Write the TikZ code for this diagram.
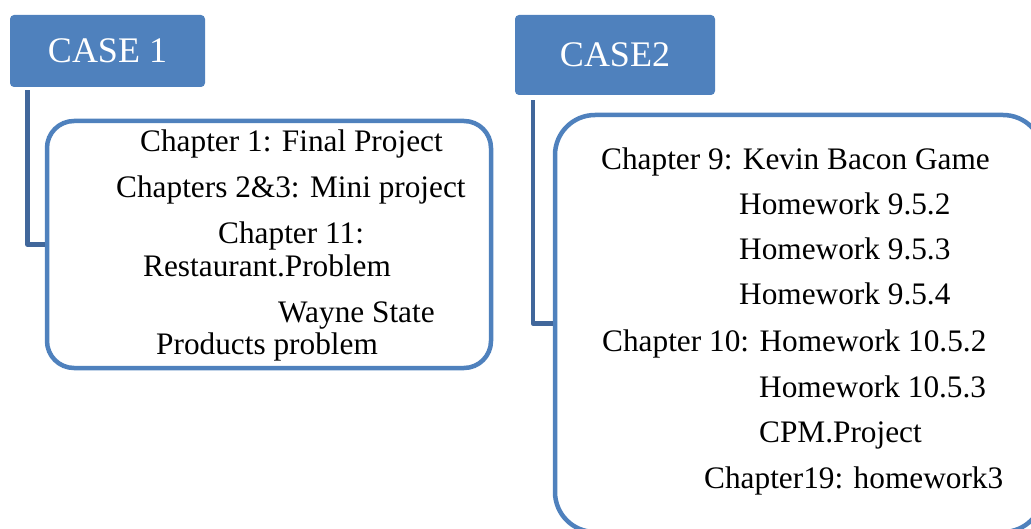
\documentclass[tikz,border=0pt]{standalone}
\usepackage{fontspec}
\setmainfont{Liberation Serif}
\definecolor{caseblue}{HTML}{4F81BD}
\definecolor{linkblue}{HTML}{41679B}
\begin{document}
\begin{tikzpicture}[x=1pt,y=-1pt,
  casebox/.style={fill=caseblue, rounded corners=4pt, text=white, inner sep=0pt,
    font=\fontsize{36}{40}\selectfont},
  listbox/.style={draw=caseblue, line width=4.5pt, fill=white, inner sep=0pt},
  link/.style={draw=linkblue, line width=4.5pt, line join=round},
  item/.style={anchor=base west, inner sep=0pt, font=\fontsize{31.3}{36}\selectfont}]
\useasboundingbox (0,0) rectangle (1031,529);
\clip (0,0) rectangle (1031,529);

% Case headers
\node[casebox, minimum width=195pt, minimum height=72pt] (c1) at (107.5,51) {CASE 1};
\node[casebox, minimum width=200pt, minimum height=80pt] (c2) at (615,55) {CASE2};

% Content frames
\node[listbox, rounded corners=27pt, minimum width=444pt, minimum height=247pt] (b1) at (269,244.5) {};
\node[listbox, rounded corners=40pt, minimum width=488pt, minimum height=417pt] (b2) at (799,323.5) {};

% Links from headers to frames
\draw[link] ([xshift=17.5pt,yshift=-3pt]c1.south west) |- (b1.west);
\draw[link] ([xshift=18pt,yshift=-5pt]c2.south west) |- (b2.west);

% Case 1 items
\node[item] (a1) at (140,152) {Chapter 1: Final Project};
\node[item] (a2) at (116,198) {Chapters 2\&3: Mini project};
\node[item] (a3) at (218,244) {Chapter 11:};
\node[item] (a4) at (143,277) {Restaurant.Problem};
\node[item] (a5) at (278,323) {Wayne State};
\node[item] (a6) at (156,355) {Products problem};

% Case 2 items
\node[item] (d1) at (601,170) {Chapter 9: Kevin Bacon Game};
\node[item] (d2) at (739,215) {Homework 9.5.2};
\node[item] (d3) at (739,260) {Homework 9.5.3};
\node[item] (d4) at (739,305) {Homework 9.5.4};
\node[item] (d5) at (602,352) {Chapter 10: Homework 10.5.2};
\node[item] (d6) at (759,397) {Homework 10.5.3};
\node[item] (d7) at (759,442) {CPM.Project};
\node[item] (d8) at (704,488) {Chapter19: homework3};
\end{tikzpicture}
\end{document}
